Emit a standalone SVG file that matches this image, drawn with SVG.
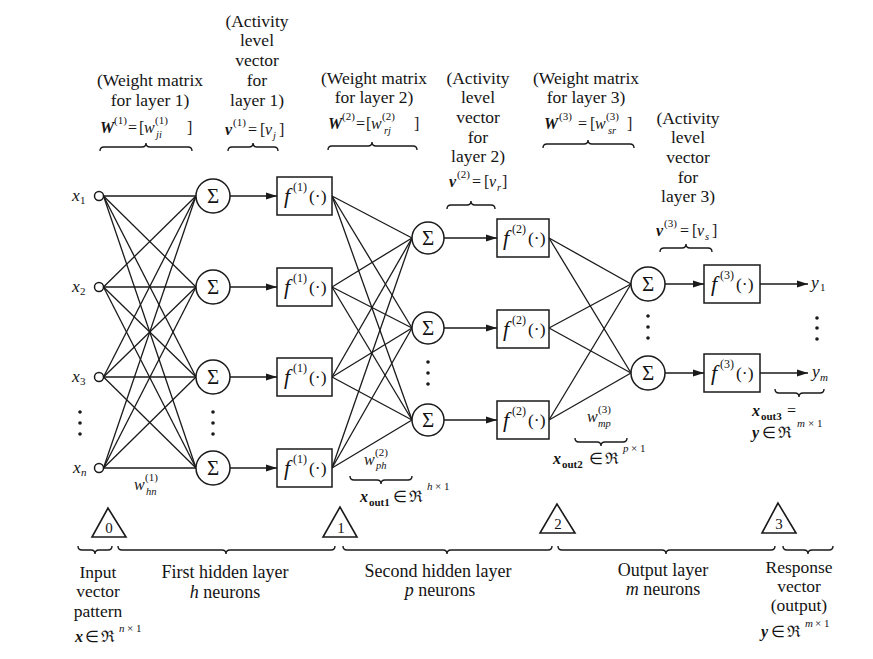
<svg xmlns="http://www.w3.org/2000/svg" width="873" height="659" viewBox="0 0 873 659" font-family="Liberation Serif, Times New Roman, serif">
<style>
text{font-family:'Liberation Serif','Times New Roman',serif;font-size:17.5px;fill:#141414}
.c{text-anchor:middle}
.i{font-style:italic}
.b{font-weight:bold}
.m{font-size:16px}
.bt{font-size:18px}
.s{font-size:11px}
.ss{font-size:10.5px}
.sg{font-size:21px}
.ff{font-size:22px;font-style:italic}
.fs{font-size:12px}
.nm{font-size:15px}
.ln{stroke:#1a1a1a;stroke-width:1.3;fill:none}
.ar{stroke:#1a1a1a;stroke-width:1.3;fill:none;marker-end:url(#ah)}
.nd{fill:#fff;stroke:#1a1a1a;stroke-width:1.5}
.tri{fill:#fff;stroke:#1a1a1a;stroke-width:1.6}
.br{stroke:#1a1a1a;stroke-width:1.4;fill:none}
.dot{fill:#1a1a1a}
</style>
<defs>
<marker id="ah" markerUnits="userSpaceOnUse" markerWidth="11" markerHeight="8" refX="11" refY="4" orient="auto"><path d="M0,0.5 L11,4 L0,7.5 z" fill="#1a1a1a"/></marker>
</defs>
<rect width="873" height="659" fill="#fff"/>

<g id="connectors">
<line class="ln" x1="103.5" y1="196" x2="196" y2="196"/>
<line class="ln" x1="103.5" y1="196" x2="196" y2="287"/>
<line class="ln" x1="103.5" y1="196" x2="196" y2="377"/>
<line class="ln" x1="103.5" y1="196" x2="196" y2="468"/>
<line class="ln" x1="103.5" y1="287" x2="196" y2="196"/>
<line class="ln" x1="103.5" y1="287" x2="196" y2="287"/>
<line class="ln" x1="103.5" y1="287" x2="196" y2="377"/>
<line class="ln" x1="103.5" y1="287" x2="196" y2="468"/>
<line class="ln" x1="103.5" y1="377" x2="196" y2="196"/>
<line class="ln" x1="103.5" y1="377" x2="196" y2="287"/>
<line class="ln" x1="103.5" y1="377" x2="196" y2="377"/>
<line class="ln" x1="103.5" y1="377" x2="196" y2="468"/>
<line class="ln" x1="103.5" y1="468" x2="196" y2="196"/>
<line class="ln" x1="103.5" y1="468" x2="196" y2="287"/>
<line class="ln" x1="103.5" y1="468" x2="196" y2="377"/>
<line class="ln" x1="103.5" y1="468" x2="196" y2="468"/>
<line class="ar" x1="230" y1="196" x2="277" y2="196"/>
<line class="ar" x1="230" y1="287" x2="277" y2="287"/>
<line class="ar" x1="230" y1="377" x2="277" y2="377"/>
<line class="ar" x1="230" y1="468" x2="277" y2="468"/>
<line class="ln" x1="332" y1="196" x2="412" y2="238"/>
<line class="ln" x1="332" y1="196" x2="412" y2="328"/>
<line class="ln" x1="332" y1="196" x2="412" y2="420"/>
<line class="ln" x1="332" y1="287" x2="412" y2="238"/>
<line class="ln" x1="332" y1="287" x2="412" y2="328"/>
<line class="ln" x1="332" y1="287" x2="412" y2="420"/>
<line class="ln" x1="332" y1="377" x2="412" y2="238"/>
<line class="ln" x1="332" y1="377" x2="412" y2="328"/>
<line class="ln" x1="332" y1="377" x2="412" y2="420"/>
<line class="ln" x1="332" y1="468" x2="412" y2="238"/>
<line class="ln" x1="332" y1="468" x2="412" y2="328"/>
<line class="ln" x1="332" y1="468" x2="412" y2="420"/>
<line class="ar" x1="444" y1="238" x2="497" y2="238"/>
<line class="ar" x1="444" y1="328" x2="497" y2="328"/>
<line class="ar" x1="444" y1="420" x2="497" y2="420"/>
<line class="ln" x1="549" y1="238" x2="631" y2="284"/>
<line class="ln" x1="549" y1="238" x2="631" y2="373"/>
<line class="ln" x1="549" y1="328" x2="631" y2="284"/>
<line class="ln" x1="549" y1="328" x2="631" y2="373"/>
<line class="ln" x1="549" y1="420" x2="631" y2="284"/>
<line class="ln" x1="549" y1="420" x2="631" y2="373"/>
<line class="ar" x1="665" y1="284" x2="704" y2="284"/>
<line class="ar" x1="665" y1="373" x2="704" y2="373"/>
<line class="ar" x1="760" y1="284" x2="808" y2="284"/>
<line class="ar" x1="760" y1="373" x2="808" y2="373"/>
</g>

<g id="inputs">
<g id="in1"><circle class="nd" cx="99" cy="196" r="4.5"/><text class="i" x="72" y="201">x</text><text class="s" x="80" y="204">1</text></g>
<g id="in2"><circle class="nd" cx="99" cy="287" r="4.5"/><text class="i" x="72" y="292">x</text><text class="s" x="80" y="295">2</text></g>
<g id="in3"><circle class="nd" cx="99" cy="377" r="4.5"/><text class="i" x="72" y="382">x</text><text class="s" x="80" y="385">3</text></g>
<g id="inn"><circle class="nd" cx="99" cy="468" r="4.5"/><text class="i" x="73" y="473">x</text><text class="s i" x="81" y="476">n</text></g>
<g id="indots"><circle class="dot" cx="80" cy="412" r="1.8"/><circle class="dot" cx="80" cy="423" r="1.8"/><circle class="dot" cx="80" cy="434" r="1.8"/></g>
</g>

<g id="sum1">
<g id="s1a"><circle class="nd" cx="213" cy="196" r="17"/><text class="sg c" x="213" y="203">Σ</text></g>
<g id="s1b"><circle class="nd" cx="213" cy="287" r="17"/><text class="sg c" x="213" y="294">Σ</text></g>
<g id="s1c"><circle class="nd" cx="213" cy="377" r="17"/><text class="sg c" x="213" y="384">Σ</text></g>
<g id="s1d"><circle class="nd" cx="213" cy="468" r="17"/><text class="sg c" x="213" y="475">Σ</text></g>
<g id="s1dots"><circle class="dot" cx="213" cy="412" r="1.8"/><circle class="dot" cx="213" cy="423" r="1.8"/><circle class="dot" cx="213" cy="434" r="1.8"/></g>
</g>

<g id="f1">
<g id="f1a"><rect class="nd" x="277" y="177" width="55" height="38"/><text class="ff" x="284" y="203">f</text><text class="fs" x="293" y="191">(1)</text><text x="309" y="202">(·)</text></g>
<g id="f1b"><rect class="nd" x="277" y="268" width="55" height="38"/><text class="ff" x="284" y="294">f</text><text class="fs" x="293" y="282">(1)</text><text x="309" y="293">(·)</text></g>
<g id="f1c"><rect class="nd" x="277" y="358" width="55" height="38"/><text class="ff" x="284" y="384">f</text><text class="fs" x="293" y="372">(1)</text><text x="309" y="383">(·)</text></g>
<g id="f1d"><rect class="nd" x="277" y="449" width="55" height="38"/><text class="ff" x="284" y="475">f</text><text class="fs" x="293" y="463">(1)</text><text x="309" y="474">(·)</text></g>
</g>

<g id="sum2">
<g id="s2a"><circle class="nd" cx="428" cy="238" r="16"/><text class="sg c" x="428" y="245">Σ</text></g>
<g id="s2b"><circle class="nd" cx="428" cy="328" r="16"/><text class="sg c" x="428" y="335">Σ</text></g>
<g id="s2c"><circle class="nd" cx="428" cy="420" r="16"/><text class="sg c" x="428" y="427">Σ</text></g>
<g id="s2dots"><circle class="dot" cx="428" cy="362" r="1.8"/><circle class="dot" cx="428" cy="373" r="1.8"/><circle class="dot" cx="428" cy="384" r="1.8"/></g>
</g>

<g id="f2">
<g id="f2a"><rect class="nd" x="497" y="219" width="52" height="38"/><text class="ff" x="503" y="245">f</text><text class="fs" x="512" y="233">(2)</text><text x="528" y="244">(·)</text></g>
<g id="f2b"><rect class="nd" x="497" y="310" width="52" height="38"/><text class="ff" x="503" y="336">f</text><text class="fs" x="512" y="324">(2)</text><text x="528" y="335">(·)</text></g>
<g id="f2c"><rect class="nd" x="497" y="401" width="52" height="38"/><text class="ff" x="503" y="427">f</text><text class="fs" x="512" y="415">(2)</text><text x="528" y="426">(·)</text></g>
</g>

<g id="sum3">
<g id="s3a"><circle class="nd" cx="648" cy="284" r="17"/><text class="sg c" x="648" y="291">Σ</text></g>
<g id="s3b"><circle class="nd" cx="648" cy="373" r="17"/><text class="sg c" x="648" y="380">Σ</text></g>
<g id="s3dots"><circle class="dot" cx="648" cy="316" r="1.8"/><circle class="dot" cx="648" cy="327" r="1.8"/><circle class="dot" cx="648" cy="338" r="1.8"/></g>
</g>

<g id="f3">
<g id="f3a"><rect class="nd" x="704" y="265" width="56" height="38"/><text class="ff" x="711" y="291">f</text><text class="fs" x="720" y="279">(3)</text><text x="736" y="290">(·)</text></g>
<g id="f3b"><rect class="nd" x="704" y="354" width="56" height="38"/><text class="ff" x="711" y="380">f</text><text class="fs" x="720" y="368">(3)</text><text x="736" y="379">(·)</text></g>
</g>

<g id="outputs">
<g id="y1"><text class="i" x="811" y="288">y</text><text class="s" x="820" y="291">1</text></g>
<g id="ym"><text class="i" x="812" y="377">y</text><text class="s i" x="820" y="381">m</text></g>
<g id="ydots"><circle class="dot" cx="817" cy="318" r="1.8"/><circle class="dot" cx="817" cy="328" r="1.8"/><circle class="dot" cx="817" cy="339" r="1.8"/></g>
</g>

<g id="top-labels">
<g id="lab-w1">
<text class="c" x="150" y="86">(Weight matrix</text>
<text class="c" x="150" y="106">for layer 1)</text>
<text class="m"><tspan class="i b" x="100" y="133">W</tspan><tspan class="s" x="114" y="124">(1)</tspan><tspan x="128" y="133">=</tspan><tspan x="139" y="133">[</tspan><tspan class="i" x="144" y="133">w</tspan><tspan class="s" x="155" y="124">(1)</tspan><tspan class="ss i" x="156" y="138">ji</tspan><tspan x="187" y="133">]</tspan></text>
<path class="br" d="M100,151 Q100,147 104,147 L142,147 Q146,147 146,143 Q146,147 150,147 L188,147 Q192,147 192,151"/>
</g>
<g id="lab-v1">
<text class="c" x="257" y="27">(Activity</text>
<text class="c" x="257" y="46">level</text>
<text class="c" x="257" y="66">vector</text>
<text class="c" x="257" y="86">for</text>
<text class="c" x="257" y="106">layer 1)</text>
<text class="m"><tspan class="i b" x="225" y="135">v</tspan><tspan class="s" x="233" y="126">(1)</tspan><tspan x="248" y="135">=</tspan><tspan x="260" y="135">[</tspan><tspan class="i" x="265" y="135">v</tspan><tspan class="ss i" x="273" y="139">j</tspan><tspan x="279" y="135">]</tspan></text>
<path class="br" d="M228,151 Q228,147 232,147 L249,147 Q253,147 253,143 Q253,147 257,147 L274,147 Q278,147 278,151"/>
</g>
<g id="lab-w2">
<text class="c" x="374" y="84">(Weight matrix</text>
<text class="c" x="374" y="103">for layer 2)</text>
<text class="m"><tspan class="i b" x="328" y="129">W</tspan><tspan class="s" x="342" y="120">(2)</tspan><tspan x="356" y="129">=</tspan><tspan x="366" y="129">[</tspan><tspan class="i" x="371" y="129">w</tspan><tspan class="s" x="382" y="120">(2)</tspan><tspan class="ss i" x="384" y="134">rj</tspan><tspan x="414" y="129">]</tspan></text>
<path class="br" d="M328,150 Q328,146 332,146 L368,146 Q372,146 372,142 Q372,146 376,146 L413,146 Q417,146 417,150"/>
</g>
<g id="lab-v2">
<text class="c" x="478" y="84">(Activity</text>
<text class="c" x="478" y="103">level</text>
<text class="c" x="478" y="123">vector</text>
<text class="c" x="478" y="143">for</text>
<text class="c" x="478" y="162">layer 2)</text>
<text class="m"><tspan class="i b" x="449" y="187">v</tspan><tspan class="s" x="457" y="178">(2)</tspan><tspan x="472" y="187">=</tspan><tspan x="484" y="187">[</tspan><tspan class="i" x="489" y="187">v</tspan><tspan class="ss i" x="497" y="191">r</tspan><tspan x="502" y="187">]</tspan></text>
<path class="br" d="M447,209 Q447,205 451,205 L467,205 Q471,205 471,201 Q471,205 475,205 L491,205 Q495,205 495,209"/>
</g>
<g id="lab-w3">
<text class="c" x="586" y="84">(Weight matrix</text>
<text class="c" x="586" y="103">for layer 3)</text>
<text class="m"><tspan class="i b" x="544" y="129">W</tspan><tspan class="s" x="559" y="120">(3)</tspan><tspan x="578" y="129">=</tspan><tspan x="590" y="129">[</tspan><tspan class="i" x="595" y="129">w</tspan><tspan class="s" x="606" y="120">(3)</tspan><tspan class="ss i" x="608" y="134">sr</tspan><tspan x="627" y="129">]</tspan></text>
<path class="br" d="M543,148 Q543,144 547,144 L584,144 Q588,144 588,140 Q588,144 592,144 L630,144 Q634,144 634,148"/>
</g>
<g id="lab-v3">
<text class="c" x="688" y="124">(Activity</text>
<text class="c" x="688" y="143">level</text>
<text class="c" x="688" y="163">vector</text>
<text class="c" x="688" y="183">for</text>
<text class="c" x="688" y="202">layer 3)</text>
<text class="m"><tspan class="i b" x="656" y="236">v</tspan><tspan class="s" x="664" y="227">(3)</tspan><tspan x="680" y="236">=</tspan><tspan x="692" y="236">[</tspan><tspan class="i" x="697" y="236">v</tspan><tspan class="ss i" x="705" y="240">s</tspan><tspan x="712" y="236">]</tspan></text>
<path class="br" d="M660,252 Q660,248 664,248 L682,248 Q686,248 686,244 Q686,248 690,248 L708,248 Q712,248 712,252"/>
</g>
</g>

<g id="weight-labels">
<text class="m"><tspan class="i" x="134" y="490">w</tspan><tspan class="s" x="145" y="481">(1)</tspan><tspan class="ss i" x="146" y="495">hn</tspan></text>
<text class="m"><tspan class="i" x="364" y="465">w</tspan><tspan class="s" x="375" y="456">(2)</tspan><tspan class="ss i" x="376" y="469">ph</tspan></text>
<text class="m"><tspan class="i" x="587" y="422">w</tspan><tspan class="s" x="598" y="413">(3)</tspan><tspan class="ss i" x="598" y="427">mp</tspan></text>
</g>

<g id="xout-labels">
<g id="xout1">
<path class="br" d="M350,476 Q350,480 354,480 L377,480 Q381,480 381,484 Q381,480 385,480 L408,480 Q412,480 412,476"/>
<text class="m"><tspan class="i b" x="360" y="502">x</tspan><tspan class="s b" x="369" y="506">out1</tspan><tspan x="393" y="502">∈</tspan><tspan x="409" y="502">ℜ</tspan><tspan class="s i" x="427" y="490">h</tspan><tspan class="s" x="435" y="490">× 1</tspan></text>
</g>
<g id="xout2">
<path class="br" d="M575,438 Q575,442 579,442 L597,442 Q601,442 601,446 Q601,442 605,442 L623,442 Q627,442 627,438"/>
<text class="m"><tspan class="i b" x="553" y="464">x</tspan><tspan class="s b" x="562" y="468">out2</tspan><tspan x="589" y="464">∈</tspan><tspan x="605" y="464">ℜ</tspan><tspan class="s i" x="623" y="452">p</tspan><tspan class="s" x="631" y="452">× 1</tspan></text>
</g>
<g id="xout3">
<path class="br" d="M775,389 Q775,393 779,393 L795,393 Q799,393 799,397 Q799,393 803,393 L820,393 Q824,393 824,389"/>
<text class="m"><tspan class="i b" x="752" y="416">x</tspan><tspan class="s b" x="761" y="420">out3</tspan><tspan x="787" y="416">=</tspan></text>
<text class="m"><tspan class="i b" x="752" y="438">y</tspan><tspan x="762" y="438">∈</tspan><tspan x="778" y="438">ℜ</tspan><tspan class="s i" x="797" y="427">m</tspan><tspan class="s" x="808" y="427">× 1</tspan></text>
</g>
</g>

<g id="markers">
<g id="t0"><polygon class="tri" points="108,508 92,537 126,537"/><text class="c nm" x="109" y="533">0</text></g>
<g id="t1"><polygon class="tri" points="340,507 323,537 357,537"/><text class="c nm" x="341" y="533">1</text></g>
<g id="t2"><polygon class="tri" points="557,504 540,533 575,533"/><text class="c nm" x="558" y="529">2</text></g>
<g id="t3"><polygon class="tri" points="778,503 762,533 796,533"/><text class="c nm" x="779" y="529">3</text></g>
</g>

<g id="bottom-labels">
<g id="b-input">
<path class="br" d="M78,546 Q78,550 82,550 L91,550 Q95,550 95,554 Q95,550 99,550 L108,550 Q112,550 112,546"/>
<text class="c" x="98" y="578">Input</text>
<text class="c" x="98" y="597">vector</text>
<text class="c" x="98" y="617">pattern</text>
<text class="m"><tspan class="i b" x="75" y="642">x</tspan><tspan x="85" y="642">∈</tspan><tspan x="101" y="642">ℜ</tspan><tspan class="s i" x="119" y="632">n</tspan><tspan class="s" x="127" y="632">× 1</tspan></text>
</g>
<g id="b-first">
<path class="br" d="M118,546 Q118,550 122,550 L222,550 Q226,550 226,554 Q226,550 230,550 L331,550 Q335,550 335,546"/>
<text class="c bt" x="225" y="578">First hidden layer</text>
<text class="c bt" x="225" y="598"><tspan class="i">h</tspan> neurons</text>
</g>
<g id="b-second">
<path class="br" d="M343,546 Q343,550 347,550 L443,550 Q447,550 447,554 Q447,550 451,550 L548,550 Q552,550 552,546"/>
<text class="c bt" x="438" y="577">Second hidden layer</text>
<text class="c bt" x="440" y="596"><tspan class="i">p</tspan> neurons</text>
</g>
<g id="b-output">
<path class="br" d="M558,546 Q558,550 562,550 L662,550 Q666,550 666,554 Q666,550 670,550 L771,550 Q775,550 775,546"/>
<text class="c bt" x="663" y="576">Output layer</text>
<text class="c bt" x="663" y="595"><tspan class="i">m</tspan> neurons</text>
</g>
<g id="b-response">
<path class="br" d="M783,546 Q783,550 787,550 L804,550 Q808,550 808,554 Q808,550 812,550 L829,550 Q833,550 833,546"/>
<text class="c" x="799" y="573">Response</text>
<text class="c" x="799" y="592">vector</text>
<text class="c" x="799" y="611">(output)</text>
<text class="m"><tspan class="i b" x="761" y="637">y</tspan><tspan x="771" y="637">∈</tspan><tspan x="787" y="637">ℜ</tspan><tspan class="s i" x="805" y="627">m</tspan><tspan class="s" x="815" y="627">× 1</tspan></text>
</g>
</g>
</svg>
